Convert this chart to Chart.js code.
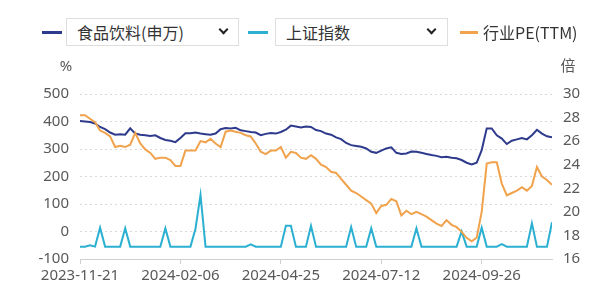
<!DOCTYPE html>
<html>
<head>
<meta charset="utf-8">
<script src="https://cdn.jsdelivr.net/npm/chart.js@4.4.0/dist/chart.umd.min.js"></script>
<style>
  body { margin: 0; background: #fff; }
  .wrap { position: relative; width: 600px; height: 290px; }
  .legend { position: absolute; left: 0; top: 0; width: 600px; height: 60px;
    font-family: 'Noto Sans CJK SC', sans-serif; font-size: 16px; color: #333; }
  .swatch { position: absolute; top: 31px; height: 3px; width: 20px; }
  .box { position: absolute; top: 18px; height: 26px; border: 1px solid #dedede;
    background: #fff; line-height: 26px; padding-left: 10px; box-sizing: content-box; }
  .chev { position: absolute; top: 7px; width: 5px; height: 5px;
    border-right: 2.5px solid #222; border-bottom: 2.5px solid #222; transform: rotate(45deg); }
  .plain { position: absolute; top: 18px; line-height: 28px; }
</style>
</head>
<body>
<div class="wrap">
  <canvas id="chart" width="600" height="290"></canvas>
  <div class="legend">
    <div class="swatch" style="left:42px;background:#2e3a8c"></div>
    <div class="box" style="left:66px;width:161px">食品饮料(申万)<span class="chev" style="left:153px"></span></div>
    <div class="swatch" style="left:248px;background:#2bb0d2"></div>
    <div class="box" style="left:275px;width:161px">上证指数<span class="chev" style="left:152px"></span></div>
    <div class="swatch" style="left:460px;width:18px;background:#f0a24c"></div>
    <div class="plain" style="left:483px">行业PE(TTM)</div>
  </div>
</div>
<script>
// x axis ticks, one every 20 points
const tickLabels = ["2023-11-21", "2024-02-06", "2024-04-25", "2024-07-12", "2024-09-26"];
const tickEvery = 20;

// 食品饮料(申万), %
const foodBev = [402, 400, 398, 393, 380, 372, 360, 352, 354, 352,
  375, 356, 352, 350, 347, 350, 340, 333, 330, 325,
  340, 357, 357, 360, 356, 354, 352, 356, 372, 376,
  375, 377, 368, 365, 362, 360, 350, 355, 358, 356,
  362, 370, 385, 382, 378, 382, 380, 369, 365, 356,
  352, 342, 336, 322, 314, 311, 308, 302, 290, 286,
  294, 302, 306, 286, 282, 284, 291, 290, 286, 282,
  278, 275, 270, 272, 268, 266, 260, 250, 244, 250,
  296, 375, 375, 350, 338, 318, 330, 335, 340, 335,
  350, 370, 356, 346, 343];

// 上证指数, %
const shIndex = [-55, -55, -50, -55, 14, -55, -55, -55, -55, 12,
  -55, -55, -55, -55, -55, -55, -55, 12, -55, -55,
  -55, -55, -55, 10, 133, -55, -55, -55, -55, -55,
  -55, -55, -55, -55, -47, -55, -55, -55, -55, -55,
  -55, 21, 21, -55, -55, -55, 21, -55, -55, -55,
  -55, -55, -55, -55, 16, -55, -55, -55, 12, -55,
  -55, -55, -55, -55, -55, -55, -55, 12, -55, -55,
  -55, -55, -55, -55, -55, -55, 0, -55, -55, -55,
  14, -55, -55, -55, -46, -55, -55, -55, -55, -55,
  30, -55, -55, -55, 34];

// 行业PE(TTM), 倍
const pe = [28.2, 28.2, 27.9, 27.6, 26.9, 26.7, 26.4, 25.5, 25.6, 25.5,
  25.7, 26.7, 25.8, 25.3, 25.0, 24.5, 24.6, 24.6, 24.4, 23.9,
  23.9, 25.2, 25.2, 25.2, 26.0, 25.9, 26.2, 25.8, 25.5, 26.8,
  26.9, 26.8, 26.7, 26.5, 26.4, 25.8, 25.1, 24.9, 25.2, 25.2,
  25.5, 24.6, 25.1, 25.0, 24.6, 24.5, 24.8, 24.5, 24.0, 23.8,
  23.4, 23.3, 22.8, 22.3, 21.8, 21.6, 21.3, 21.0, 20.7, 19.9,
  20.5, 20.6, 21.1, 20.9, 19.7, 20.1, 19.8, 20.0, 19.8, 19.6,
  19.3, 19.0, 18.8, 19.3, 18.9, 18.7, 18.3, 17.8, 17.5, 17.8,
  20.0, 24.1, 24.2, 24.2, 22.4, 21.4, 21.6, 21.8, 22.1, 21.8,
  22.2, 23.8, 23.0, 22.7, 22.3];

const points = foodBev.map((_, i) => i);
const textColor = "#595959";

Chart.defaults.font.family = "'Noto Sans', 'Noto Sans CJK SC', sans-serif";
Chart.defaults.font.size = 15;
Chart.defaults.color = textColor;

const unitLabels = {
  id: "unitLabels",
  afterDraw(chart) {
    const { ctx, chartArea } = chart;
    ctx.save();
    ctx.font = "15px 'Noto Sans', 'Noto Sans CJK SC', sans-serif";
    ctx.fillStyle = textColor;
    ctx.textAlign = "center";
    ctx.textBaseline = "middle";
    ctx.fillText("%", chartArea.left - 14, chartArea.top - 27);
    ctx.fillText("倍", chartArea.right + 16, chartArea.top - 27);
    ctx.restore();
  },
};

const ctx = document.getElementById("chart").getContext("2d");
new Chart(ctx, {
  type: "line",
  data: {
    labels: points,
    datasets: [
      {
        label: "行业PE(TTM)",
        data: pe,
        yAxisID: "y1",
        borderColor: "#f0a24c",
        borderWidth: 2,
        order: 0,
      },
      {
        label: "食品饮料(申万)",
        data: foodBev,
        yAxisID: "y",
        borderColor: "#2e3a8c",
        borderWidth: 2,
        order: 1,
      },
      {
        label: "上证指数",
        data: shIndex,
        yAxisID: "y",
        borderColor: "#2bb0d2",
        borderWidth: 2,
        order: 2,
      },
    ],
  },
  options: {
    responsive: false,
    animation: false,
    elements: { point: { radius: 0 }, line: { tension: 0 } },
    layout: { padding: { top: 94, left: 0, right: 0, bottom: 0 } },
    plugins: { legend: { display: false }, tooltip: { enabled: false } },
    scales: {
      x: {
        type: "linear",
        min: 0,
        max: points.length - 1,
        afterFit: (scale) => { scale.height = 31; },
        grid: { drawOnChartArea: false, tickLength: 5, color: "#cfcfcf" },
        border: { color: "#cfcfcf", width: 1 },
        ticks: {
          stepSize: tickEvery,
          includeBounds: false,
          padding: 3,
          maxRotation: 0,
          autoSkip: false,
          callback: (v) => tickLabels[v / tickEvery] ?? "",
        },
      },
      y: {
        position: "left",
        min: -100,
        max: 500,
        afterFit: (scale) => { scale.width = 80; },
        grid: { color: "#d9d9d9", drawTicks: false },
        border: { display: false, dash: [2, 3] },
        ticks: { stepSize: 100, padding: 11 },
      },
      y1: {
        position: "right",
        min: 16,
        max: 30,
        afterFit: (scale) => { scale.width = 48; },
        grid: { drawOnChartArea: false, drawTicks: false },
        border: { display: false },
        ticks: { stepSize: 2, padding: 11 },
      },
    },
  },
  plugins: [unitLabels],
});
</script>
</body>
</html>
